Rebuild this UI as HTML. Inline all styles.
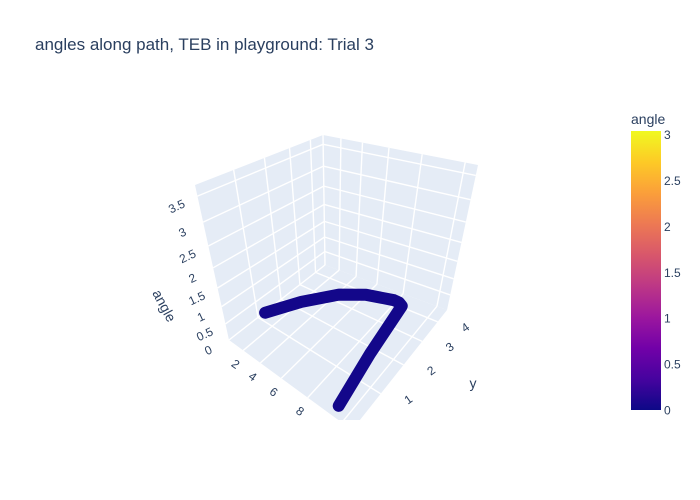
<!DOCTYPE html>
<html><head><meta charset="utf-8"><style>
body{margin:0;background:#fff}
svg{font-family:"Liberation Sans",sans-serif;display:block}
</style></head><body>
<svg id="chart" width="700" height="500" viewBox="0 0 700 500">
<rect width="700" height="500" fill="#fff"/>
<text x="35" y="50" font-size="17" fill="#2a3f5f">angles along path, TEB in playground: Trial 3</text>
<defs>
<clipPath id="sc"><rect x="0" y="60" width="600" height="360"/></clipPath>
<linearGradient id="cb" x1="0" y1="1" x2="0" y2="0">
<stop offset="0" stop-color="#0d0887"/><stop offset="0.111" stop-color="#46039f"/><stop offset="0.222" stop-color="#7201a8"/><stop offset="0.333" stop-color="#9c179e"/><stop offset="0.444" stop-color="#bd3786"/><stop offset="0.556" stop-color="#d8576b"/><stop offset="0.667" stop-color="#ed7953"/><stop offset="0.778" stop-color="#fb9f3a"/><stop offset="0.889" stop-color="#fdca26"/><stop offset="1" stop-color="#f0f921"/>
</linearGradient>
</defs>
<g id="scene" clip-path="url(#sc)"></g>
<g id="cbar">
<text x="631" y="124" font-size="14" fill="#2a3f5f">angle</text>
<rect x="631" y="131" width="30" height="279" fill="url(#cb)"/>
</g>
</svg>
<script>
const xTicks=[0,2,4,6,8,10];
const yTicks=[1,2,3,4];
const zTicks=[0,0.5,1,1.5,2,2.5,3,3.5];
const cbTicks=[0,0.5,1,1.5,2,2.5,3];
const pathX=[9.43,8.93,8.48,8.2,7.83,6.0,4.2,2.0,0.1];
const pathY=[0.24,1.81,4.06,4.17,4.19,3.9,3.36,2.3,1.26];
const pathAngle=[0.02,0.02,0.03,0.03,0.03,0.02,0.02,0.02,0.02];
const xMax=10.5,yMax=4.7,zMax=3.7,cbMax=3.04;
const NS='http://www.w3.org/2000/svg';
const L=[229,340],F=[352,430],B=[325,265],R=[447,310],LT=[195,185],BT=[323,135],RT=[478,165];
function persp(u,a){return u/(a-(a-1)*u);}
function sx(x){return persp(x/xMax,1.8);}
function ty(y){return 1-persp(1-y/yMax,1.6);}
function uz(z){return persp(z/zMax,1.35);}
function bil(c00,c10,c01,c11,s,t){return [c00[0]*(1-s)*(1-t)+c10[0]*s*(1-t)+c01[0]*(1-s)*t+c11[0]*s*t,c00[1]*(1-s)*(1-t)+c10[1]*s*(1-t)+c01[1]*(1-s)*t+c11[1]*s*t];}
function floorP(x,y){return bil(L,F,B,R,sx(x),ty(y));}
function leftP(y,z){return bil(L,B,LT,BT,ty(y),uz(z));}
function rightP(x,z){return bil(B,R,BT,RT,sx(x),uz(z));}
const scene=document.getElementById('scene');
function mk(tag,attrs,parent){const e=document.createElementNS(NS,tag);for(const k in attrs)e.setAttribute(k,attrs[k]);(parent||scene).appendChild(e);return e;}
function poly(pts){return pts.map(p=>p[0].toFixed(1)+','+p[1].toFixed(1)).join(' ');}
let w;
w=mk('polygon',{points:poly([L,B,BT,LT]),fill:'#e5ecf6'});


w=mk('polygon',{points:poly([B,R,RT,BT]),fill:'#e5ecf6'});


w=mk('polygon',{points:poly([L,F,R,B]),fill:'#e5ecf6'});


function gl(a,b,name){const l=mk('line',{x1:a[0],y1:a[1],x2:b[0],y2:b[1],stroke:'#fff','stroke-width':1.4});

}
xTicks.forEach(x=>{gl(floorP(x,0),floorP(x,yMax),'floor-grid-x');gl(rightP(x,0),rightP(x,zMax),'wall-grid-x');});
yTicks.forEach(y=>{gl(floorP(0,y),floorP(xMax,y),'floor-grid-y');gl(leftP(y,0),leftP(y,zMax),'wall-grid-y');});
zTicks.forEach(z=>{if(z===0)return;gl(leftP(0,z),leftP(yMax,z),'left-grid-z');gl(rightP(0,z),rightP(xMax,z),'back-grid-z');});
function lab(txt,p,name,rot){const t=mk('text',{x:p[0],y:p[1],'font-size':12,fill:'#2a3f5f','text-anchor':'middle',transform:'rotate('+rot+' '+p[0]+' '+p[1]+')'});t.textContent=txt;

}
xTicks.forEach(x=>{if(x===0)return;const p=floorP(x,0);lab(String(x),[p[0]-10,p[1]+17],'x-tick-label',35);});
yTicks.forEach(y=>{const p=floorP(xMax,y);lab(String(y),[p[0]+30,p[1]+9],'y-tick-label',-35);});
zTicks.forEach(z=>{const p=leftP(0,z);lab(String(z),[p[0]-19,p[1]+14],'z-tick-label',-25);});
let at=mk('text',{x:160,y:308,'font-size':14,fill:'#2a3f5f','text-anchor':'middle',transform:'rotate(62 160 308)'});at.textContent='angle';


at=mk('text',{x:473,y:388,'font-size':14,fill:'#2a3f5f','text-anchor':'middle'});at.textContent='y';


const pts=pathX.map((x,i)=>floorP(x,pathY[i]));
const pl=mk('polyline',{points:poly(pts),fill:'none',stroke:'#13078a','stroke-width':12,'stroke-linecap':'round','stroke-linejoin':'round'});


const cb=document.getElementById('cbar');
cbTicks.forEach(v=>{const y=410-v/cbMax*279;const t=mk('text',{x:664,y:y+4.5,'font-size':12,fill:'#2a3f5f'},cb);t.textContent=String(v);

});
</script>
</body></html>
